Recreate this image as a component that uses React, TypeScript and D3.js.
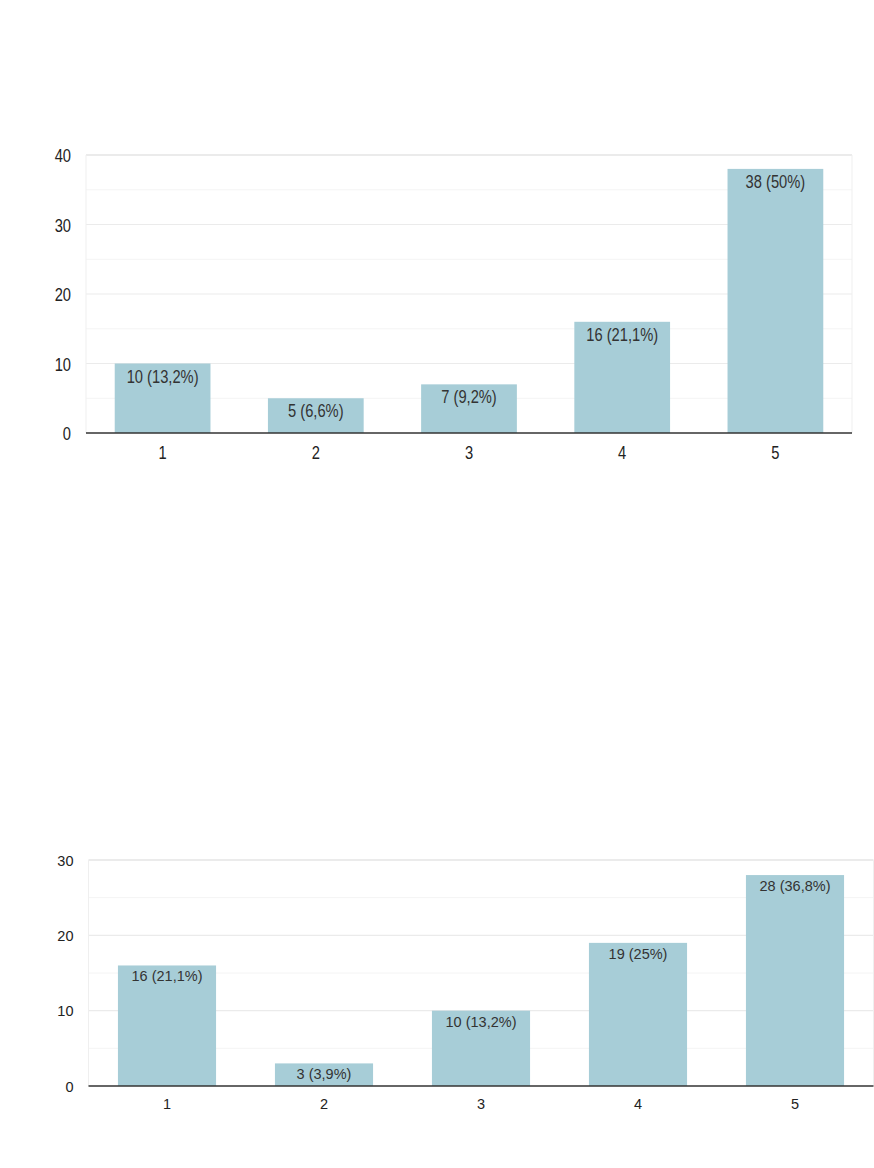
import React from "react";
import * as d3 from "d3";

const categories = ["1", "2", "3", "4", "5"];
const values1 = [10, 5, 7, 16, 38];
const labels1 = ["10 (13,2%)", "5 (6,6%)", "7 (9,2%)", "16 (21,1%)", "38 (50%)"];
const ticks1 = [0, 10, 20, 30, 40];
const values2 = [16, 3, 10, 19, 28];
const labels2 = ["16 (21,1%)", "3 (3,9%)", "10 (13,2%)", "19 (25%)", "28 (36,8%)"];
const ticks2 = [0, 10, 20, 30];

const BAR = "#a7cdd7";

type ChartProps = {
  values: number[];
  labels: string[];
  ticks: number[];
  left: number;
  right: number;
  top: number;
  bottom: number;
  max: number;
  fontSize: number;
  sx: number;
  tickDx: number;
  tickDy: number;
  xLabelDy: number;
  barLabelDy: number;
};

function Chart(p: ChartProps) {
  const x = d3.scaleBand<string>().domain(categories).range([p.left, p.right]).paddingInner(0.375).paddingOuter(0.1875);
  const y = d3.scaleLinear().domain([0, p.max]).range([p.bottom, p.top]);
  const minor = d3.range(5, p.max, 10);
  const T = (tx: number, ty: number) => `translate(${tx},${ty}) scale(${p.sx},1)`;
  return (
    <g fontFamily="'Liberation Sans', Arial, sans-serif" fontSize={p.fontSize}>
      {minor.map((v) => (
        <line key={"m" + v} x1={p.left} x2={p.right} y1={y(v)} y2={y(v)} stroke="#f4f4f4" strokeWidth={1} />
      ))}
      {p.ticks.slice(1).map((v) => (
        <line key={"g" + v} x1={p.left} x2={p.right} y1={y(v)} y2={y(v)} stroke="#ebebeb" strokeWidth={v === p.max ? 2 : 1.2} />
      ))}
      <line x1={p.left} x2={p.left} y1={p.top} y2={p.bottom} stroke="#efefef" />
      <line x1={p.right} x2={p.right} y1={p.top} y2={p.bottom} stroke="#efefef" />
      {p.values.map((v, i) => (
        <rect key={i} x={x(categories[i])} width={x.bandwidth()} y={y(v)} height={p.bottom - y(v)} fill={BAR} />
      ))}
      {p.values.map((v, i) => (
        <text key={"l" + i} transform={T(x(categories[i])! + x.bandwidth() / 2, y(v) + p.barLabelDy)} textAnchor="middle" fill="#333">
          {p.labels[i]}
        </text>
      ))}
      <line x1={p.left} x2={p.right} y1={p.bottom} y2={p.bottom} stroke="#333" strokeWidth={1.5} />
      {p.ticks.map((v) => (
        <text key={"t" + v} transform={T(p.left + p.tickDx, y(v) + p.tickDy)} textAnchor="end" fill="#222">
          {v}
        </text>
      ))}
      {categories.map((c) => (
        <text key={"x" + c} transform={T(x(c)! + x.bandwidth() / 2, p.bottom + p.xLabelDy)} textAnchor="middle" fill="#222">
          {c}
        </text>
      ))}
    </g>
  );
}

export default function App() {
  return (
    <div style={{ position: "absolute", left: 0, top: 0 }}>
      <svg width={874} height={1168} style={{ display: "block", background: "#fff" }}>
        <Chart
          values={values1}
          labels={labels1}
          ticks={ticks1}
          left={86}
          right={852}
          top={155}
          bottom={433}
          max={40}
          fontSize={17.5}
          sx={0.84}
          tickDx={-15}
          tickDy={7}
          xLabelDy={26}
          barLabelDy={19}
        />
        <Chart
          values={values2}
          labels={labels2}
          ticks={ticks2}
          left={88.5}
          right={873.5}
          top={860}
          bottom={1086}
          max={30}
          fontSize={14.5}
          sx={1}
          tickDx={-15}
          tickDy={5.5}
          xLabelDy={23}
          barLabelDy={16}
        />
      </svg>
    </div>
  );
}
